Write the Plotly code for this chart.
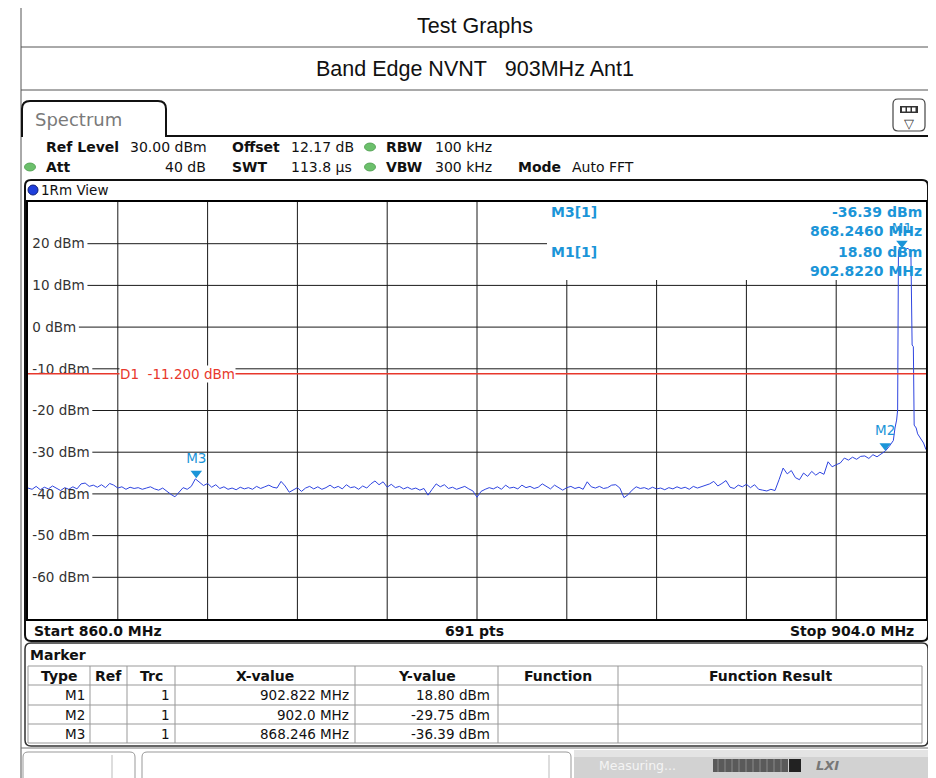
import numpy as np
import plotly.graph_objects as go

W, H = 936, 778
OFF = 8                      # page body margin the plot div sits inside
FW, FH = W - OFF, H - OFF    # figure size so the page is filled exactly

# ---------------------------------------------------------------- data
sweep_start_mhz = 860.0
sweep_stop_mhz = 904.0
sweep_step_mhz = 0.2

# noise floor, 860.0 ... 902.2 MHz
floor_levels_dbm = [
    -38.6, -38.9, -38.2, -39.0, -38.4,   # 860
    -38.8, -38.1, -38.7, -39.2, -38.5,   # 861
    -38.9, -38.3, -38.8, -37.6, -37.4,   # 862
    -38.2, -37.9, -38.4, -37.8, -38.5,   # 863
    -37.5, -37.9, -38.6, -38.3, -38.9,   # 864
    -38.4, -38.7, -38.5, -38.9, -38.6,   # 865
    -38.3, -38.8, -39.1, -38.6, -39.4,   # 866
    -40.1, -40.7, -39.6, -38.5, -38.9,   # 867
    -38.2, -36.4, -37.3, -38.0, -37.5,   # 868
    -38.4, -37.8, -38.7, -38.3, -38.9,   # 869
    -38.6, -39.0, -38.4, -38.8, -38.5,   # 870
    -38.9, -38.2, -38.7, -38.3, -37.9,   # 871
    -38.4, -38.6, -37.0, -38.1, -39.6,   # 872
    -39.0, -38.5, -39.4, -38.6, -38.2,   # 873
    -38.8, -38.3, -38.9, -38.5, -37.9,   # 874
    -38.6, -38.2, -38.8, -37.8, -38.5,   # 875
    -38.3, -38.9, -38.1, -38.6, -37.6,   # 876
    -36.9, -37.8, -37.1, -38.4, -37.7,   # 877
    -38.5, -38.2, -38.8, -38.4, -38.9,   # 878
    -38.6, -39.1, -38.7, -40.3, -38.9,   # 879
    -37.6, -38.3, -37.8, -38.7, -38.4,   # 880
    -38.9, -38.5, -38.2, -38.8, -39.3,   # 881
    -40.8, -39.4, -38.9, -38.5, -38.8,   # 882
    -38.3, -38.9, -37.9, -38.6, -38.4,   # 883
    -38.8, -37.9, -38.5, -38.2, -38.7,   # 884
    -38.4, -37.6, -38.3, -38.8, -37.9,   # 885
    -38.6, -39.1, -38.5, -38.2, -38.7,   # 886
    -38.4, -38.9, -37.1, -38.3, -38.6,   # 887
    -38.2, -38.7, -38.5, -37.9, -37.8,   # 888
    -38.6, -40.9, -40.2, -39.1, -38.3,   # 889
    -38.7, -38.5, -38.9, -38.4, -38.8,   # 890
    -38.6, -39.0, -38.5, -38.8, -38.3,   # 891
    -38.7, -38.4, -38.9, -38.2, -38.6,   # 892
    -38.3, -38.0, -37.6, -37.0, -38.1,   # 893
    -37.5, -36.8, -38.4, -38.7, -37.9,   # 894
    -38.3, -37.7, -38.5, -37.8, -38.9,   # 895
    -39.1, -39.3, -38.9, -39.2, -36.6,   # 896
    -33.8, -35.2, -34.4, -36.1, -36.6,   # 897
    -35.0, -35.8, -34.6, -35.5, -34.8,   # 898
    -35.3, -32.3, -33.5, -33.0, -32.6,   # 899
    -31.4, -31.9, -31.2, -31.7, -31.0,   # 900
    -30.9, -31.5, -30.6, -31.1, -30.4,   # 901
    -29.75, -28.6,                       # 902.0, 902.2
]

# carrier and band edge, read at finer resolution
peak_freq_mhz = [902.40, 902.48, 902.56, 902.61, 902.65, 902.72, 902.82, 902.92,
                 903.02, 903.12, 903.20, 903.26, 903.32, 903.38, 903.42, 903.52,
                 903.59, 903.67, 903.76, 903.88, 904.00]
peak_levels_dbm = [-27.2, -24.2, -22.3, -19.9, 18.4, 19.0, 18.8, 19.1,
                   18.7, 18.9, 18.5, 18.1, -4.3, -4.7, -23.5, -24.2,
                   -25.6, -26.3, -27.0, -27.8, -29.4]

y_tick_vals = [20, 10, 0, -10, -20, -30, -40, -50, -60]
y_tick_text = ["20 dBm", "10 dBm", "0 dBm", "-10 dBm", "-20 dBm", "-30 dBm",
               "-40 dBm", "-50 dBm", "-60 dBm"]
x_div_mhz = [864.4, 868.8, 873.2, 877.6, 882.0, 886.4, 890.8, 895.2, 899.6]
y_range = [-70, 30]

display_line_dbm = -11.2
display_line_label = "D1&nbsp;&nbsp;-11.200 dBm"

marker_names = ["M1", "M2", "M3"]
marker_freq_mhz = [902.822, 902.0, 868.246]
marker_level_dbm = [18.80, -29.75, -36.39]
marker_x_text = ["902.822 MHz", "902.0 MHz", "868.246 MHz"]
marker_y_text = ["18.80 dBm", "-29.75 dBm", "-36.39 dBm"]
marker_trc = ["1", "1", "1"]

readout_rows = [("M3[1]", "-36.39 dBm", "868.2460 MHz"),
                ("M1[1]", "18.80 dBm", "902.8220 MHz")]

table_headers = ["Type", "Ref", "Trc", "X-value", "Y-value", "Function", "Function Result"]

# ---------------------------------------------------------------- helpers
FONT = "DejaVu Sans, Verdana, sans-serif"
ARIAL = "Liberation Sans, Arial, sans-serif"
MK_BLUE = "#1b95d8"
TRACE_BLUE = "#2f45e0"
RED = "#e8382c"

def X(px):
    return (px - OFF) / FW

def Y(py):
    return 1 - (py - OFF) / FH

shapes = []
annotations = []

def line(x0, y0, x1, y1, color="#000", width=1):
    shapes.append(dict(type="line", xref="paper", yref="paper",
                       x0=X(x0), y0=Y(y0), x1=X(x1), y1=Y(y1),
                       line=dict(color=color, width=width)))

def rect(x0, y0, x1, y1, fill=None, color=None, width=0):
    shapes.append(dict(type="rect", xref="paper", yref="paper",
                       x0=X(x0), y0=Y(y0), x1=X(x1), y1=Y(y1),
                       fillcolor=fill or "rgba(0,0,0,0)",
                       line=dict(color=color or "rgba(0,0,0,0)", width=width)))

def ellipse(cx, cy, rx, ry, fill, color, width=1):
    shapes.append(dict(type="circle", xref="paper", yref="paper",
                       x0=X(cx - rx), y0=Y(cy + ry), x1=X(cx + rx), y1=Y(cy - ry),
                       fillcolor=fill, line=dict(color=color, width=width)))

def rrect(x0, y0, x1, y1, r, color="#000", width=1, fill=None):
    p = (f"M {X(x0 + r)},{Y(y0)} L {X(x1 - r)},{Y(y0)} Q {X(x1)},{Y(y0)} {X(x1)},{Y(y0 + r)} "
         f"L {X(x1)},{Y(y1 - r)} Q {X(x1)},{Y(y1)} {X(x1 - r)},{Y(y1)} "
         f"L {X(x0 + r)},{Y(y1)} Q {X(x0)},{Y(y1)} {X(x0)},{Y(y1 - r)} "
         f"L {X(x0)},{Y(y0 + r)} Q {X(x0)},{Y(y0)} {X(x0 + r)},{Y(y0)} Z")
    shapes.append(dict(type="path", xref="paper", yref="paper", path=p,
                       fillcolor=fill or "rgba(0,0,0,0)",
                       line=dict(color=color, width=width)))

def text(x, y, s, size=14, color="#111", anchor="left", family=FONT, bold=False,
         bg=None, italic=False):
    if bold:
        s = f"<b>{s}</b>"
    if italic:
        s = f"<i>{s}</i>"
    a = dict(x=X(x), y=Y(y), xref="paper", yref="paper", text=s, showarrow=False,
             xanchor=anchor, yanchor="middle",
             font=dict(family=family, size=size, color=color), borderpad=0)
    if bg:
        a["bgcolor"] = bg
    annotations.append(a)

# DejaVu Sans advance widths (em) for tick label text
_adv = {"0": .636, "1": .636, "2": .636, "3": .636, "4": .636, "5": .636, "6": .636,
        "7": .636, "8": .636, "9": .636, " ": .318, "-": .361, "d": .635, "B": .686,
        "m": .974}

def text_w(s, size):
    return sum(_adv.get(c, .6) for c in s) * size

# ---------------------------------------------------------------- plot geometry
PL, PR, PT, PB = 28, 926, 202, 619
TICK_SIZE = 13.5
TICK_LEFT_PX = 33
READOUT_LEFT_PX = 547
READOUT_BOTTOM_PX = 280
px_per_mhz = (PR - PL) / (sweep_stop_mhz - sweep_start_mhz)
px_per_db = (PB - PT) / (y_range[1] - y_range[0])
readout_left_mhz = sweep_start_mhz + (READOUT_LEFT_PX - PL) / px_per_mhz
readout_bottom_dbm = y_range[1] - (READOUT_BOTTOM_PX - PT) / px_per_db

# ---------------------------------------------------------------- outer document table
text(475, 26, "Test Graphs", size=21.5, family=ARIAL, anchor="center", color="#111")
text(475, 69, "Band Edge NVNT&nbsp;&nbsp;&nbsp;903MHz Ant1", size=21.5, family=ARIAL,
     anchor="center", color="#111")
line(21, 47, 934, 47, "#555", 1)
line(21, 90, 934, 90, "#555", 1)
line(21, OFF, 21, 778, "#555", 1)
line(934, OFF, 934, 748, "#555", 1)
line(21, 748, 936, 748, "#777", 1)

# ---------------------------------------------------------------- instrument screen chrome
tab = (f"M {X(22)},{Y(137)} L {X(22)},{Y(109)} Q {X(22)},{Y(101)} {X(30)},{Y(101)} "
       f"L {X(158)},{Y(101)} Q {X(166)},{Y(101)} {X(166)},{Y(109)} L {X(166)},{Y(136)} "
       f"L {X(928)},{Y(136)}")
shapes.append(dict(type="path", xref="paper", yref="paper", path=tab,
                   line=dict(color="#111", width=2)))
text(34, 119, "Spectrum", size=18, color="#7a7a7a")

rrect(893, 99, 925, 131, 5, color="#444", width=1.2)
rect(900, 106, 918, 113, fill="#333")
for sx in (902, 907, 912):
    rect(sx, 107.5, sx + 3.5, 111.5, fill="#fff")
text(909, 123, "▽", size=13, anchor="center", color="#333")

# settings rows
R1, R2 = 147, 167
text(45, R1, "Ref Level", bold=True)
text(129, R1, "30.00 dBm")
text(231, R1, "Offset", bold=True)
text(290, R1, "12.17 dB")
text(385, R1, "RBW", bold=True)
text(434, R1, "100 kHz")
text(45, R2, "Att", bold=True)
text(207, R2, "40 dB", anchor="right")
text(231, R2, "SWT", bold=True)
text(290, R2, "113.8 µs")
text(385, R2, "VBW", bold=True)
text(434, R2, "300 kHz")
text(517, R2, "Mode", bold=True)
text(571, R2, "Auto FFT")
for cx, cy in ((370, R1), (370, R2), (30, R2)):
    ellipse(cx, cy, 5.5, 4, "#6cc06c", "#4a9a4a", 0.8)

# diagram frame
rrect(25, 180, 928, 641, 6, color="#111", width=2)
ellipse(33, 190, 5, 5, "#1f3fdc", "#10207a", 1)
text(40, 190, "1Rm View", size=13.5)
text(33, 631, "Start 860.0 MHz", bold=True, size=14)
text(475, 631, "691 pts", bold=True, size=14, anchor="center")
text(915, 631, "Stop 904.0 MHz", bold=True, size=14, anchor="right")

# marker table panel
rrect(25, 643, 928, 746, 6, color="#333", width=1.5)
text(29, 655, "Marker", bold=True, size=14)
col_x = [28, 90, 127, 175, 355, 498, 618, 922]
row_y = [666, 685, 705, 724, 743]
for yy in row_y:
    line(col_x[0], yy, col_x[-1], yy, "#999", 1)
for xx in col_x:
    line(xx, row_y[0], xx, row_y[-1], "#999", 1)
for i, hd in enumerate(table_headers):
    text((col_x[i] + col_x[i + 1]) / 2, (row_y[0] + row_y[1]) / 2, hd, bold=True,
         size=14, anchor="center")
for r in range(len(marker_names)):
    cy = (row_y[r + 1] + row_y[r + 2]) / 2
    text(col_x[1] - 4, cy, marker_names[r], size=13.5, anchor="right")
    text(col_x[3] - 4, cy, marker_trc[r], size=13.5, anchor="right")
    text(col_x[4] - 5, cy, marker_x_text[r], size=13.5, anchor="right")
    text(col_x[5] - 7, cy, marker_y_text[r], size=13.5, anchor="right")

# status bar
rrect(23, 752, 135, 784, 5, color="#999", width=1, fill="#fff")
line(112, 755, 112, 778, "#bbb", 1)
rrect(142, 752, 571, 784, 5, color="#999", width=1, fill="#fff")
line(549, 755, 549, 778, "#bbb", 1)
rect(574, 750, 936, 778, fill="#d2d2d2")
rect(574, 750, 936, 757, fill="#e4e4e4")
text(598, 765, "Measuring...", size=12.5, color="#f4f4f4")
rect(713, 759, 788, 772, fill="#5a5a5a")
for sx in range(718, 788, 7):
    line(sx, 759, sx, 772, "#8a8a8a", 1)
rect(789, 759, 801, 772, fill="#222")
text(827, 765, "LXI", size=13, color="#777", bold=True, italic=True, anchor="center")

# ---------------------------------------------------------------- grid (inside the diagram)
for v, lbl in zip(y_tick_vals, y_tick_text):
    x0 = TICK_LEFT_PX + text_w(lbl, TICK_SIZE) + 2
    x1 = READOUT_LEFT_PX if v > readout_bottom_dbm else PR
    shapes.append(dict(type="line", xref="paper", yref="y", x0=X(x0), x1=X(x1),
                       y0=v, y1=v, layer="below", line=dict(color="#1a1a1a", width=1)))
for f in x_div_mhz:
    top = readout_bottom_dbm if f > readout_left_mhz else y_range[1]
    shapes.append(dict(type="line", xref="x", yref="y", x0=f, x1=f, y0=y_range[0],
                       y1=top, layer="below", line=dict(color="#1a1a1a", width=1)))

# display line D1
shapes.append(dict(type="line", xref="x", yref="y", x0=sweep_start_mhz, x1=sweep_stop_mhz,
                   y0=display_line_dbm, y1=display_line_dbm,
                   line=dict(color=RED, width=1.5)))
annotations.append(dict(x=X(119), y=display_line_dbm, xref="paper", yref="y",
                        text=display_line_label, showarrow=False, xanchor="left",
                        yanchor="middle", bgcolor="#fff", borderpad=0,
                        font=dict(family=FONT, size=13.5, color=RED)))

# marker readout
for i, (name, lvl, frq) in enumerate(readout_rows):
    y0 = 212 + i * 40
    text(550, y0, name, bold=True, size=14, color=MK_BLUE)
    text(923, y0, lvl, bold=True, size=14, color=MK_BLUE, anchor="right")
    text(923, y0 + 19, frq, bold=True, size=14, color=MK_BLUE, anchor="right")

# ---------------------------------------------------------------- traces
floor_freq = np.round(sweep_start_mhz + sweep_step_mhz * np.arange(len(floor_levels_dbm)), 3)
freq_all = list(floor_freq) + peak_freq_mhz
level_all = floor_levels_dbm + peak_levels_dbm

MARKER_LIFT_PX = 5.5
fig = go.Figure()
fig.add_trace(go.Scatter(x=freq_all, y=level_all, mode="lines",
                         line=dict(color=TRACE_BLUE, width=1), hoverinfo="skip"))
fig.add_trace(go.Scatter(x=marker_freq_mhz,
                         y=[v + MARKER_LIFT_PX / px_per_db for v in marker_level_dbm],
                         mode="markers+text", text=marker_names, textposition="top center",
                         marker=dict(symbol="triangle-down", size=10, color=MK_BLUE),
                         textfont=dict(family=FONT, size=13.5, color=MK_BLUE),
                         hoverinfo="skip"))

fig.update_layout(
    width=FW, height=FH, autosize=False,
    margin=dict(l=0, r=0, t=0, b=0, pad=0),
    paper_bgcolor="#ffffff", plot_bgcolor="rgba(0,0,0,0)",
    showlegend=False,
    xaxis=dict(domain=[X(PL), X(PR)], range=[sweep_start_mhz, sweep_stop_mhz],
               showticklabels=False, ticks="", showgrid=False, zeroline=False,
               showline=True, mirror=True, linecolor="#000", linewidth=2, fixedrange=True),
    yaxis=dict(domain=[Y(PB), Y(PT)], range=y_range, tickvals=y_tick_vals,
               ticktext=y_tick_text, ticklabelposition="inside", ticks="",
               ticklabelstandoff=4,
               tickfont=dict(family=FONT, size=TICK_SIZE, color="#333"),
               showgrid=False, zeroline=False, showline=True, mirror=True,
               linecolor="#000", linewidth=2, fixedrange=True),
    shapes=shapes,
    annotations=annotations,
)

fig.write_html("out.html")
